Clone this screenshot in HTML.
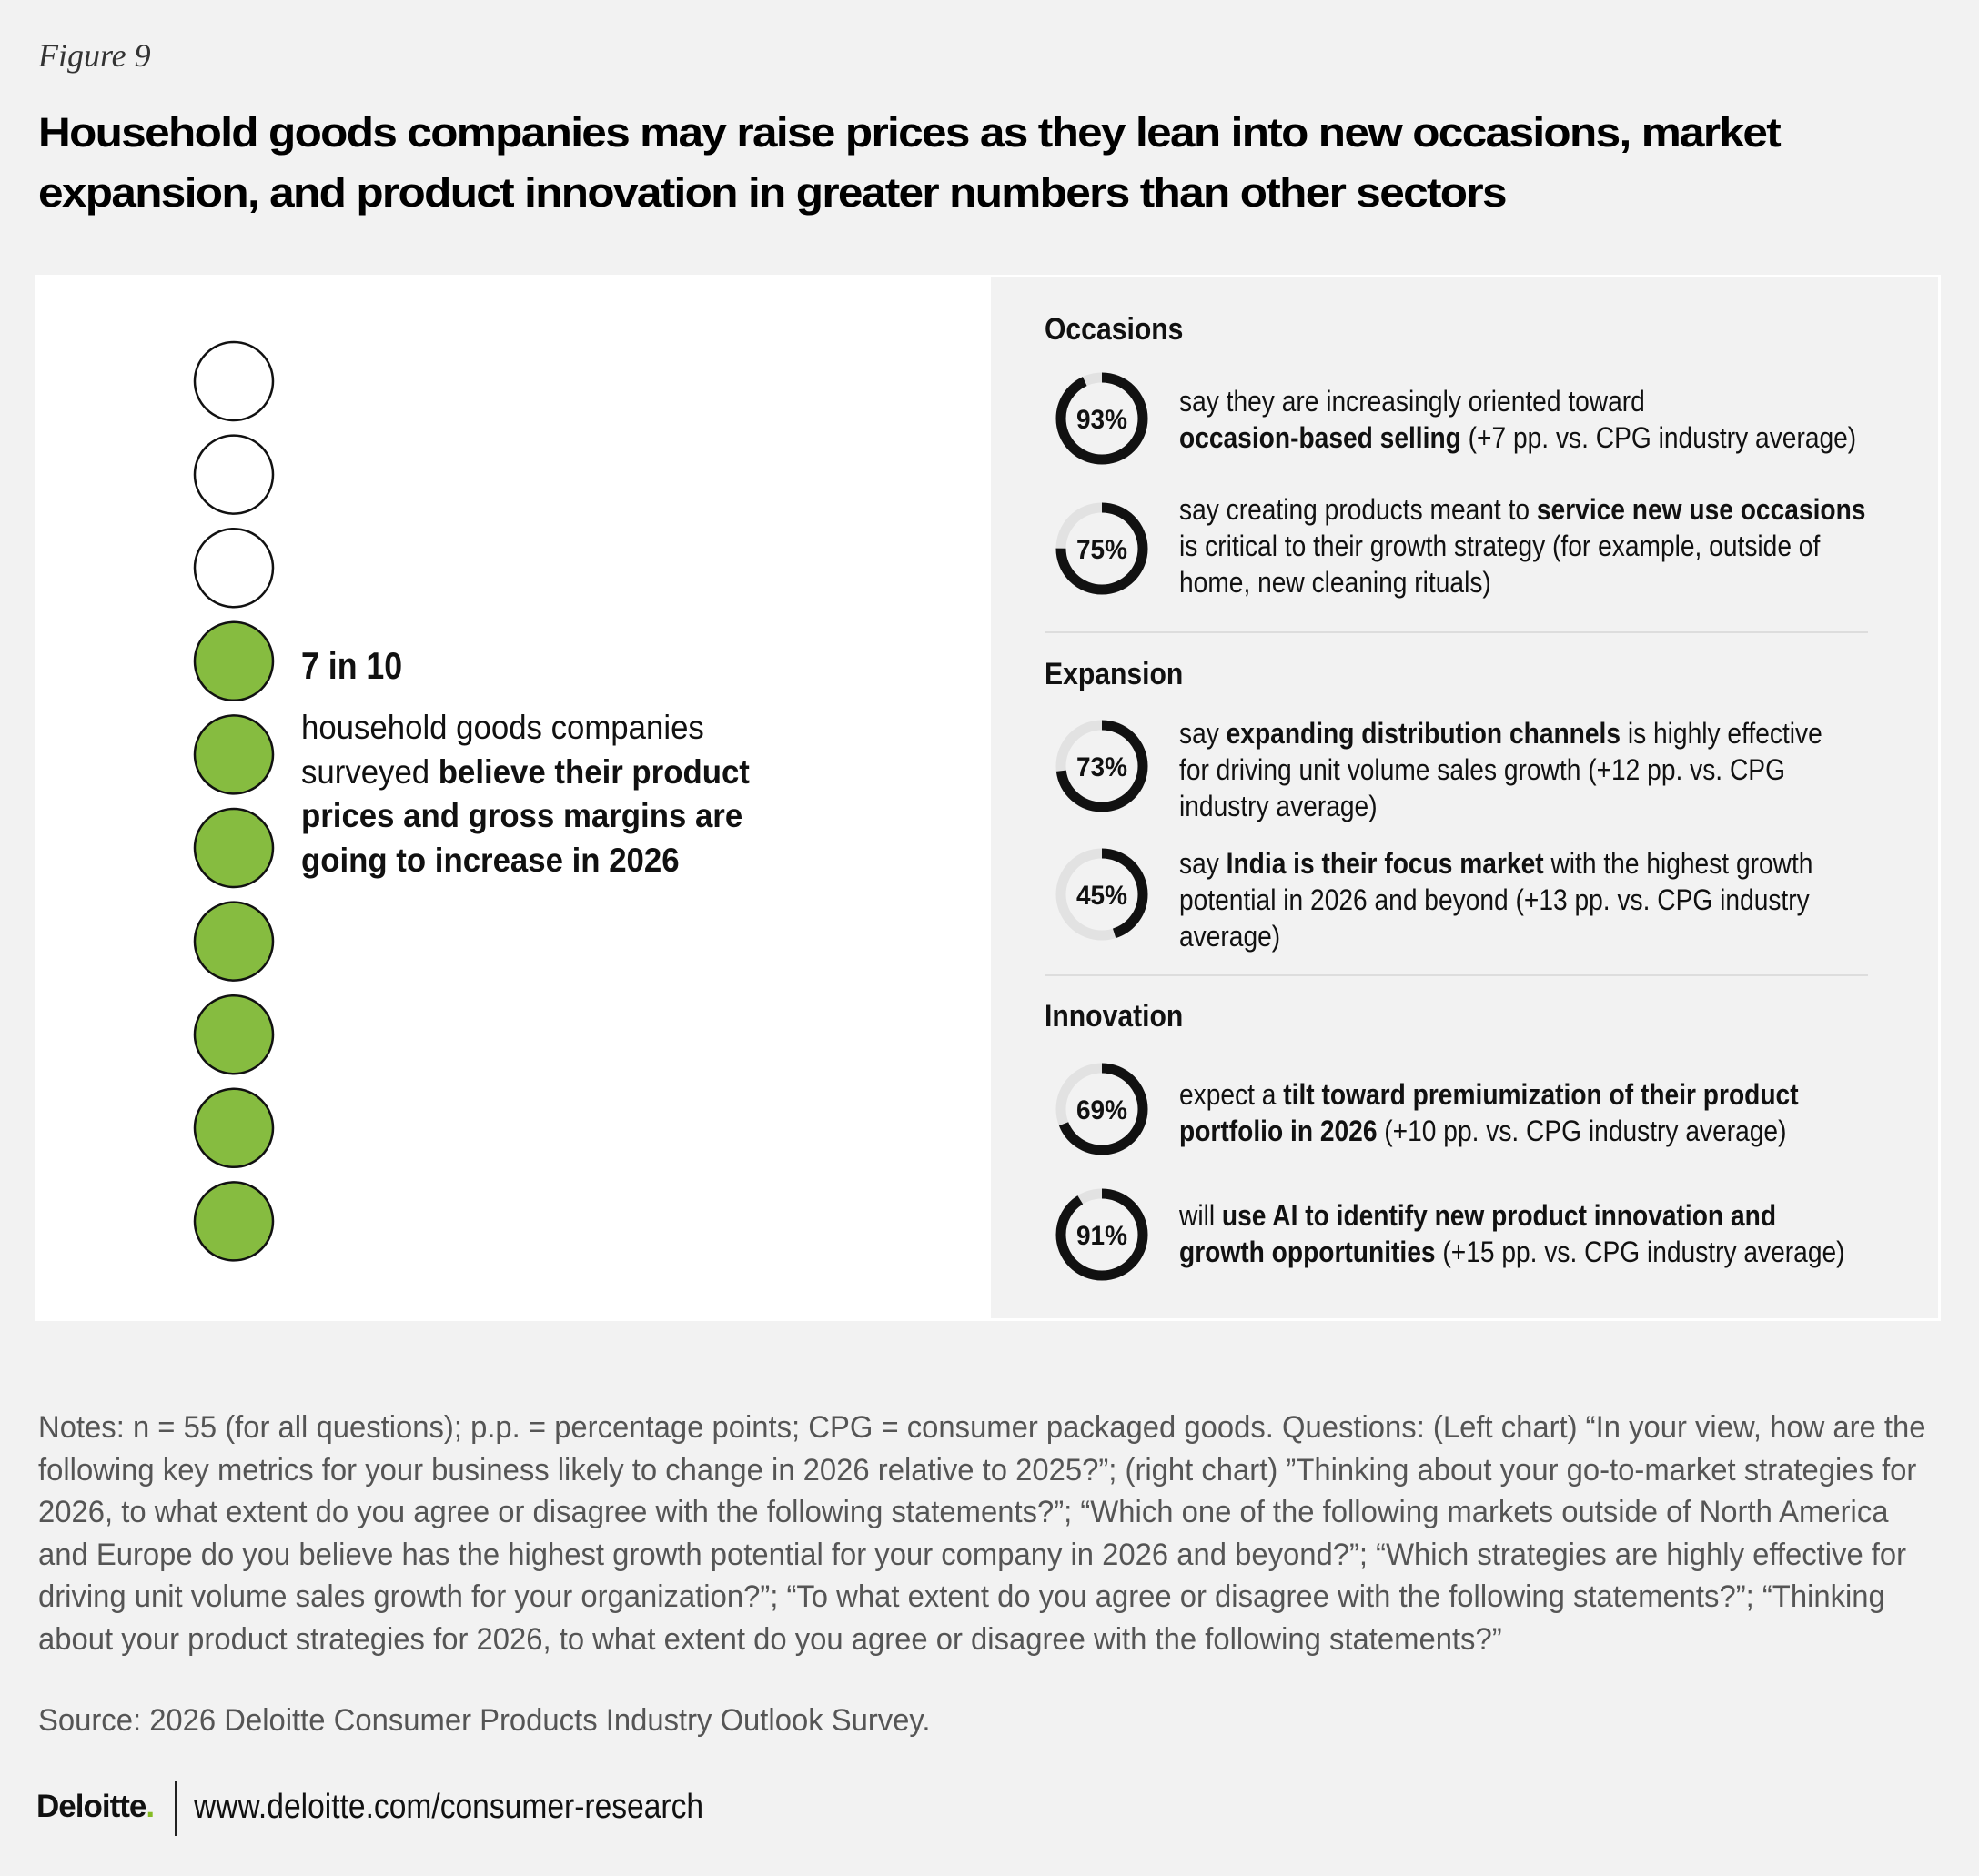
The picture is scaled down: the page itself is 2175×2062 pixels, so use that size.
<!DOCTYPE html>
<html><head><meta charset="utf-8">
<style>
html,body{margin:0;padding:0}
body{width:2175px;height:2062px;background:#f2f2f2;position:relative;overflow:hidden;font-family:"Liberation Sans",sans-serif;color:#111}
.a{position:absolute;white-space:nowrap;transform-origin:0 0}
.fig{left:42px;top:40px;font-family:"Liberation Serif",serif;font-style:italic;font-size:36px;color:#333}
.title{left:42px;font-family:"Liberation Sans",sans-serif;font-weight:bold;font-size:45px;letter-spacing:-1.5px;line-height:66px;color:#000;transform:scaleX(1.10)}
.st{font-size:32px;line-height:40px;transform:scaleX(0.88)}
.hd{font-size:34px;font-weight:bold;line-height:44px;transform:scaleX(0.886)}
.note{left:42px;font-size:34px;line-height:46.5px;color:#555;transform:scaleX(0.965)}
b{font-weight:bold}
</style></head>
<body>
<div class="a fig">Figure 9</div>
<div class="a title" style="top:113px">Household goods companies may raise prices as they lean into new occasions, market<br>expansion, and product innovation in greater numbers than other sectors</div>

<div class="a" style="left:39px;top:302px;width:2094px;height:1150px;background:#fff"></div>
<div class="a" style="left:1089px;top:305px;width:1041px;height:1144px;background:#f2f2f2"></div>

<svg class="a" id="dots" style="left:0;top:0" width="1089" height="1452"></svg>

<div class="a" style="left:331px;top:708px;font-size:42px;font-weight:bold;line-height:48px;transform:scaleX(0.85)">7 in 10</div>
<div class="a" style="left:331px;top:776px;font-size:37px;line-height:48.5px;transform:scaleX(0.94)">household goods companies<br>surveyed <b>believe their product<br>prices and gross margins are<br>going to increase in 2026</b></div>

<div class="a hd" style="left:1148px;top:340px">Occasions</div>
<div class="a hd" style="left:1148px;top:719px">Expansion</div>
<div class="a hd" style="left:1148px;top:1095px">Innovation</div>
<div class="a" style="left:1148px;top:694px;width:905px;height:2px;background:#ddd"></div>
<div class="a" style="left:1148px;top:1071px;width:905px;height:2px;background:#ddd"></div>

<svg class="a" id="donuts" style="left:1089px;top:302px" width="300" height="1150"></svg>

<div class="a st" style="left:1296px;top:421px">say they are increasingly oriented toward<br><b>occasion-based selling</b> (+7 pp. vs. CPG industry average)</div>
<div class="a st" style="left:1296px;top:540px">say creating products meant to <b>service new use occasions</b><br>is critical to their growth strategy (for example, outside of<br>home, new cleaning rituals)</div>
<div class="a st" style="left:1296px;top:786px">say <b>expanding distribution channels</b> is highly effective<br>for driving unit volume sales growth (+12 pp. vs. CPG<br>industry average)</div>
<div class="a st" style="left:1296px;top:929px">say <b>India is their focus market</b> with the highest growth<br>potential in 2026 and beyond (+13 pp. vs. CPG industry<br>average)</div>
<div class="a st" style="left:1296px;top:1183px">expect a <b>tilt toward premiumization of their product<br>portfolio in 2026</b> (+10 pp. vs. CPG industry average)</div>
<div class="a st" style="left:1296px;top:1316px">will <b>use AI to identify new product innovation and<br>growth opportunities</b> (+15 pp. vs. CPG industry average)</div>

<div class="a note" style="top:1546px">Notes: n = 55 (for all questions); p.p. = percentage points; CPG = consumer packaged goods. Questions: (Left chart) “In your view, how are the<br>following key metrics for your business likely to change in 2026 relative to 2025?”; (right chart) ”Thinking about your go-to-market strategies for<br>2026, to what extent do you agree or disagree with the following statements?”; “Which one of the following markets outside of North America<br>and Europe do you believe has the highest growth potential for your company in 2026 and beyond?”; “Which strategies are highly effective for<br>driving unit volume sales growth for your organization?”; “To what extent do you agree or disagree with the following statements?”; “Thinking<br>about your product strategies for 2026, to what extent do you agree or disagree with the following statements?”</div>
<div class="a note" style="top:1868px">Source: 2026 Deloitte Consumer Products Industry Outlook Survey.</div>

<div class="a" style="left:40px;top:1964px;font-family:'Liberation Sans',sans-serif;font-weight:bold;font-size:35px;letter-spacing:-1px;line-height:44px">Deloitte<span style="color:#86bc25">.</span></div>
<div class="a" style="left:192px;top:1958px;width:2px;height:60px;background:#222"></div>
<div class="a" style="left:213px;top:1964px;font-size:38px;line-height:44px;color:#111;transform:scaleX(0.884)">www.deloitte.com/consumer-research</div>

<script>
const dotTotal = 10;
const dotFilled = 7;
const donutValues = [93, 75, 73, 45, 69, 91];
const donutLabels = ["93%", "75%", "73%", "45%", "69%", "91%"];
const NS = "http://www.w3.org/2000/svg";

const dots = document.getElementById('dots');
for (let i = 0; i < dotTotal; i++) {
  const c = document.createElementNS(NS, 'circle');
  c.setAttribute('cx', 257);
  c.setAttribute('cy', 419 + i * 102.6);
  c.setAttribute('r', 43);
  c.setAttribute('stroke', '#111');
  c.setAttribute('stroke-width', 2.5);
  c.setAttribute('fill', i >= dotTotal - dotFilled ? '#86bc40' : '#fff');
  
  
  dots.appendChild(c);
}

const donutY = [158, 301, 540, 681, 917, 1055];
const dsvg = document.getElementById('donuts');
const R = 45, C = 2 * Math.PI * R;
donutValues.forEach((v, i) => {
  const g = document.createElementNS(NS, 'g');
  g.setAttribute('transform', `translate(122,${donutY[i]})`);
  
  
  const bg = document.createElementNS(NS, 'circle');
  bg.setAttribute('r', R); bg.setAttribute('fill', 'none');
  bg.setAttribute('stroke', '#e2e2e2'); bg.setAttribute('stroke-width', 11);
  
  
  g.appendChild(bg);
  const fg = document.createElementNS(NS, 'circle');
  fg.setAttribute('r', R); fg.setAttribute('fill', 'none');
  fg.setAttribute('stroke', '#111'); fg.setAttribute('stroke-width', 11);
  fg.setAttribute('stroke-dasharray', `${C * v / 100} ${C}`);
  fg.setAttribute('transform', 'rotate(-90)');
  
  
  g.appendChild(fg);
  const t = document.createElementNS(NS, 'text');
  t.setAttribute('text-anchor', 'middle'); t.setAttribute('y', 11);
  t.setAttribute('font-size', 30); t.setAttribute('font-weight', 'bold');
  t.setAttribute('font-family', '"Liberation Sans",sans-serif');
  t.setAttribute('textLength', 56);
  t.setAttribute('lengthAdjust', 'spacingAndGlyphs');
  t.setAttribute('fill', '#111');
  t.textContent = donutLabels[i];
  
  
  g.appendChild(t);
  dsvg.appendChild(g);
});
</script>
</body></html>
